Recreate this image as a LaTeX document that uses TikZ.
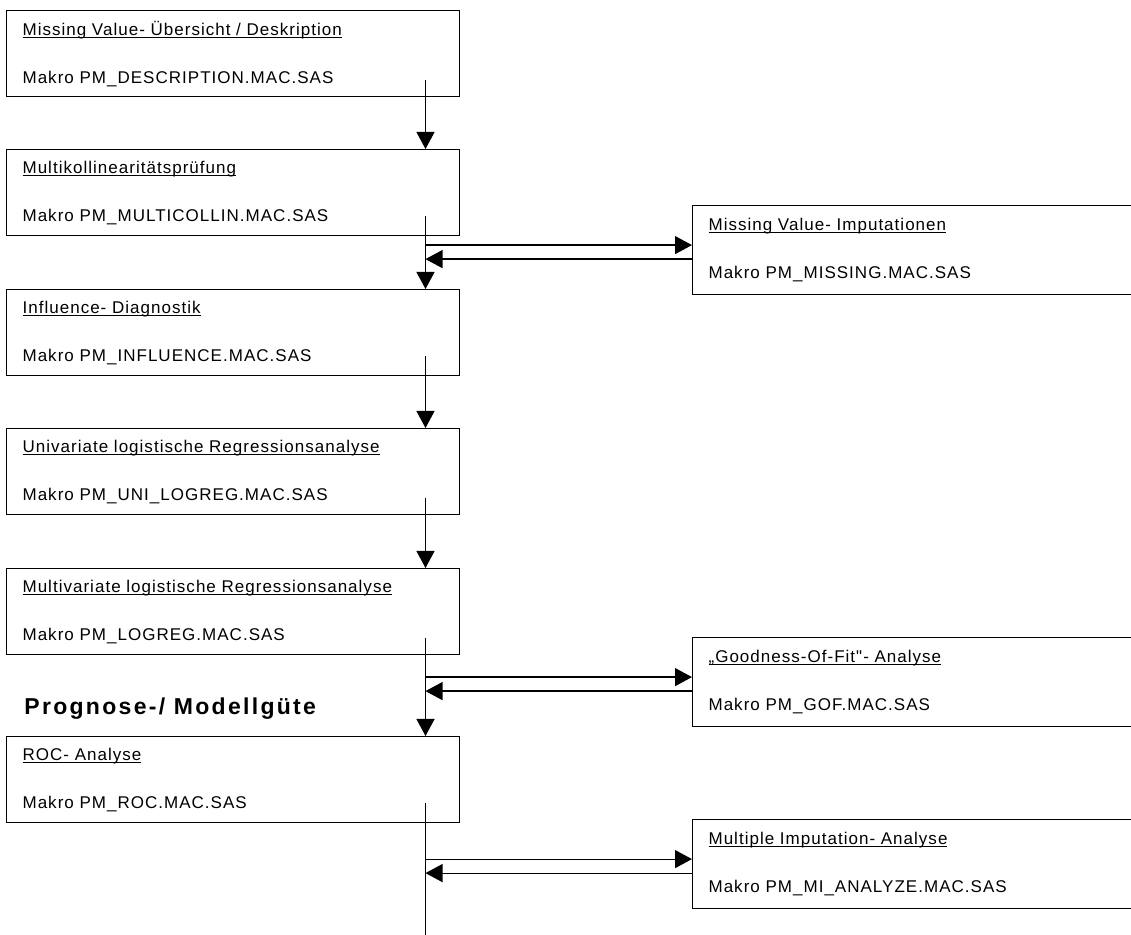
\documentclass[tikz,border=0pt]{standalone}
\usepackage{fontspec}
\setmainfont{Liberation Sans}
\usetikzlibrary{arrows.meta,calc}
\newfontfamily\boxfont[LetterSpace=6]{Liberation Sans}
\newfontfamily\headfont[LetterSpace=10]{Liberation Sans}
\newcommand{\ultext}[1]{\setbox0=\hbox{#1}\rlap{\rule[-1.3pt]{\wd0}{0.5pt}}\box0}

\begin{document}
\begin{tikzpicture}[x=0.5pt,y=-0.5pt,
  pmbox/.style={draw,line width=0.6pt,anchor=north west,inner sep=0pt,inner xsep=8pt,
    text width=210.5pt,minimum height=43pt,align=left,
    font=\boxfont\fontsize{8.5}{24}\selectfont},
  sidebox/.style={pmbox,text width=260pt,minimum height=44.5pt},
  flow/.style={line width=0.6pt,-{Triangle[length=8.5pt,width=9pt]}},
  heading/.style={font=\headfont\bfseries\fontsize{11.5}{14}\selectfont,anchor=base west,inner sep=0pt}]
\clip (0,0) rectangle (1131,935);

\coordinate (spine) at (425.5,0);
\coordinate (bottom) at (425.5,940);

% Makro-Kette links
\node[pmbox] (desc) at (6,10) {\ultext{Missing Value- Übersicht / Deskription}\\Makro PM\_DESCRIPTION.MAC.SAS};
\node[pmbox] (multi) at (6,149) {\ultext{Multikollinearitätsprüfung}\\Makro PM\_MULTICOLLIN.MAC.SAS};
\node[pmbox] (infl) at (6,289) {\ultext{Influence- Diagnostik}\\Makro PM\_INFLUENCE.MAC.SAS};
\node[pmbox] (unireg) at (6,428) {\ultext{Univariate logistische Regressionsanalyse}\\Makro PM\_UNI\_LOGREG.MAC.SAS};
\node[pmbox] (multreg) at (6,568) {\ultext{Multivariate logistische Regressionsanalyse}\\Makro PM\_LOGREG.MAC.SAS};
\node[pmbox] (roc) at (6,736) {\ultext{ROC- Analyse}\\Makro PM\_ROC.MAC.SAS};

\node[heading] (guete) at (24,715) {Prognose-/ Modellgüte};

% Makros rechts
\node[sidebox] (mvimp) at (692,205) {\ultext{Missing Value- Imputationen}\\Makro PM\_MISSING.MAC.SAS};
\node[sidebox] (gof) at (692,637) {\ultext{„Goodness-Of-Fit"- Analyse}\\Makro PM\_GOF.MAC.SAS};
\node[sidebox] (mian) at (692,819) {\ultext{Multiple Imputation- Analyse}\\Makro PM\_MI\_ANALYZE.MAC.SAS};

% senkrechte Verbindungen
\draw[flow] ($(desc.south -| spine)+(0,-17)$) -- (spine |- multi.north);
\draw[flow] ($(multi.south -| spine)+(0,-20)$) -- (spine |- infl.north);
\draw[flow] ($(infl.south -| spine)+(0,-20)$) -- (spine |- unireg.north);
\draw[flow] ($(unireg.south -| spine)+(0,-17)$) -- (spine |- multreg.north);
\draw[flow] ($(multreg.south -| spine)+(0,-17)$) -- (spine |- roc.north);
\draw[line width=0.6pt] ($(roc.south -| spine)+(0,-20)$) -- (bottom);

% Hin- und Rueckweg
\coordinate (mvimp-in) at ([yshift=2.5pt]mvimp.west);
\coordinate (mvimp-out) at ([yshift=-4.5pt]mvimp.west);
\coordinate (gof-in) at ([yshift=2.5pt]gof.west);
\coordinate (gof-out) at ([yshift=-4.5pt]gof.west);
\coordinate (mian-in) at ([yshift=2.5pt]mian.west);
\coordinate (mian-out) at ([yshift=-4.5pt]mian.west);

\draw[flow] (spine |- mvimp-in) -- (mvimp-in);
\draw[flow] (mvimp-out) -- (spine |- mvimp-out);
\draw[flow] (spine |- gof-in) -- (gof-in);
\draw[flow] (gof-out) -- (spine |- gof-out);
\draw[flow] (spine |- mian-in) -- (mian-in);
\draw[flow] (mian-out) -- (spine |- mian-out);

\end{tikzpicture}
\end{document}
